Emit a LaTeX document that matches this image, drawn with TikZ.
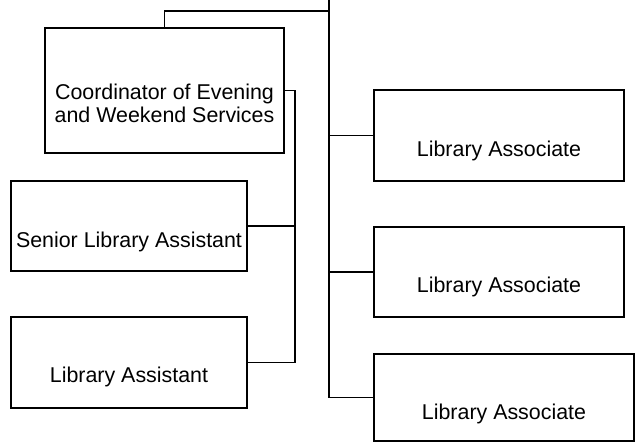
\documentclass[tikz,border=0pt]{standalone}
\usepackage{fontspec}
\setmainfont{Liberation Sans}
\begin{document}
\begin{tikzpicture}[x=1pt,y=-1pt,
  box/.style={draw=black,line width=1.8pt,anchor=north west,inner sep=0pt,outer sep=0pt},
  lbl/.style={anchor=base,inner sep=0pt,align=center,font=\fontsize{21.4}{23.4}\selectfont},
  conn/.style={draw=black,line width=1.5pt},
  spine/.style={draw=black,line width=2pt}]
\useasboundingbox (0,0) rectangle (635,444);
\node[box,minimum width=239pt,minimum height=125pt] (coord) at (45,28) {};
\node[box,minimum width=236pt,minimum height=90pt] (sla) at (11,181) {};
\node[box,minimum width=236pt,minimum height=91pt] (lasst) at (11,317) {};
\node[box,minimum width=250pt,minimum height=91pt] (la1) at (374,90) {};
\node[box,minimum width=250pt,minimum height=90pt] (la2) at (374,227) {};
\node[box,minimum width=260pt,minimum height=87pt] (la3) at (374,354) {};
\node[lbl] (tcoord) at (164.5,122.7) {Coordinator of Evening\\and Weekend Services};
\node[lbl] (tsla) at (129,247) {Senior Library Assistant};
\node[lbl] (tlasst) at (129,382.7) {Library Assistant};
\node[lbl] (tla1) at (499,156) {Library Associate};
\node[lbl] (tla2) at (499,292.7) {Library Associate};
\node[lbl] (tla3) at (504,419) {Library Associate};
\coordinate (top) at (328.5,0);
\coordinate (hub) at (328.5,11);
\coordinate (sub) at (295,90.5);
\draw[spine] (top) -- (top |- la3.west);
\draw[conn] (hub) -| (coord.north);
\draw[conn] (la1.west) -- (la1.west -| top);
\draw[conn] (la2.west) -- (la2.west -| top);
\draw[conn] (la3.west) -- (la3.west -| top);
\draw[conn] (coord.east) -- (sub) |- (lasst.east);
\draw[conn] (sla.east) -- (sla.east -| sub);
\end{tikzpicture}
\end{document}
